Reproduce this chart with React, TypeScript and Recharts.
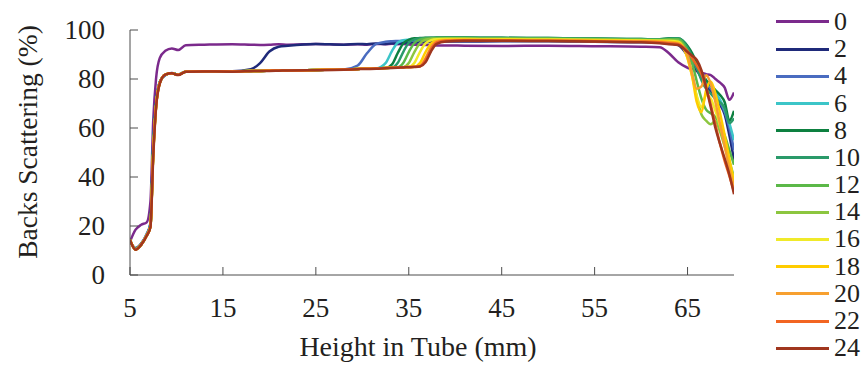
import { LineChart, Line, XAxis, YAxis, Label } from "recharts";

// height in tube (mm), shared by every scan
const heights = [
  5, 5.6, 6.2, 6.8, 7.2, 7.5, 7.8, 8.2, 8.8, 9.5, 10.2, 11,
  13, 16, 18, 19, 20, 21, 22, 25, 28, 29.5, 30.5, 31.5, 32.5, 33.2, 33.8, 34.4, 35, 35.6,
  36.2, 36.8, 37.4, 38, 39, 41, 45, 50, 55, 60, 62, 63,
  64, 65, 65.5, 66, 66.5, 67, 67.5, 68, 68.5, 69, 69.5, 70,
];

// backscattering (%) per scan time
const bs0 = [
  13.6, 18.5, 20.5, 21.5, 30, 63, 80, 88.5, 91.5, 92.5, 91.8, 93.8,
  94, 94.2, 94, 93.9, 94, 94.2, 94, 94.3, 94, 94.2, 94, 94.3, 94.2, 94.4, 94.2, 94.3, 94.1, 94,
  94, 93.9, 93.8, 93.7, 93.7, 93.6, 93.5, 93.6, 93.4, 93.2, 93, 90.5,
  86.8, 84.6, 84, 83.2, 82.6, 82, 81.6, 80, 78.5, 76.5, 71.5, 74.5,
];
const bs2 = [
  14, 11, 12.8, 16.5, 21, 53, 70, 78.8, 81.6, 82.4, 81.7, 83.1,
  83.2, 83.2, 84, 86.5, 91.2, 93.2, 93.6, 94.3, 94, 94.3, 94.2, 94.5, 94.3, 94.6, 94.5, 94.7, 94.8, 94.9,
  95, 95, 95.1, 95.2, 95.3, 95.3, 95.4, 95.4, 95.2, 95, 94.8, 94.6,
  93.8, 89.5, 86.5, 83.5, 80.5, 77.5, 75, 72.5, 69.5, 65.5, 57, 47,
];
const bs4 = [
  14.2, 10.8, 12.6, 16.8, 21, 54, 70, 78.6, 81.7, 82.3, 81.8, 83,
  83.2, 83.1, 83.3, 83.3, 83.4, 83.5, 83.5, 83.7, 83.9, 85.5, 90.5, 94.3, 95.2, 95.4, 95.5, 95.6, 95.6, 95.7,
  95.8, 95.8, 95.9, 96, 96, 96, 95.9, 95.8, 95.6, 95.4, 95.2, 95,
  94.2, 90.5, 87.5, 84.5, 81.5, 78.5, 76, 73.5, 70.5, 66.5, 60, 51,
];
const bs6 = [
  14.3, 10.6, 12.5, 16.4, 20.5, 52, 69.5, 78.5, 81.7, 82.3, 81.8, 83,
  83.2, 83.1, 83.3, 83.3, 83.4, 83.5, 83.5, 83.7, 83.9, 84.1, 84.2, 84.3, 86.5, 91.5, 94.8, 95.8, 96.1, 96.2,
  96.3, 96.3, 96.4, 96.5, 96.5, 96.5, 96.4, 96.3, 96.1, 95.9, 95.7, 95.6,
  95, 91.5, 88.5, 85.5, 82.5, 79.5, 77, 74.5, 71.5, 67.5, 62, 55,
];
const bs8 = [
  14.3, 10.5, 12.4, 16.2, 20.2, 51, 69.5, 78.5, 81.8, 82.3, 81.8, 83,
  83.2, 83.1, 83.3, 83.3, 83.4, 83.5, 83.5, 83.7, 83.9, 84.1, 84.2, 84.3, 84.5, 86, 90.5, 94.5, 96, 96.6,
  96.7, 96.8, 96.8, 96.9, 96.9, 96.9, 96.8, 96.7, 96.5, 96.3, 96.2, 96.6,
  96.5, 93.5, 90.5, 86.5, 82.5, 79.5, 77.5, 75.5, 73.5, 70.5, 63, 67,
];
const bs10 = [
  14.3, 10.5, 12.4, 16.2, 20, 50.5, 69, 78.4, 81.8, 82.3, 81.8, 83,
  83.2, 83.1, 83.3, 83.3, 83.4, 83.5, 83.5, 83.7, 83.9, 84.1, 84.2, 84.3, 84.5, 84.6, 86.5, 91, 94.8, 96.2,
  96.6, 96.7, 96.8, 96.8, 96.9, 96.9, 96.8, 96.7, 96.5, 96.3, 96.2, 96.5,
  96.6, 92.8, 89, 84.5, 79.5, 76, 74, 72, 70.5, 68, 62, 64,
];
const bs12 = [
  14.3, 10.5, 12.4, 16.1, 20, 50, 69, 78.4, 81.8, 82.3, 81.8, 83,
  83.2, 83.1, 83.3, 83.3, 83.4, 83.5, 83.5, 83.7, 83.9, 84.1, 84.2, 84.3, 84.5, 84.6, 84.7, 86.5, 91, 94.7,
  96.1, 96.5, 96.6, 96.7, 96.7, 96.7, 96.6, 96.5, 96.3, 96.1, 96, 96.2,
  96.2, 91.5, 86.5, 79, 72, 67.5, 66, 64.5, 61.5, 57, 51, 45,
];
const bs14 = [
  14.3, 10.4, 12.4, 16.1, 19.8, 49.5, 68.5, 78.3, 81.8, 82.3, 81.7, 83,
  83.2, 83.1, 83.3, 83.3, 83.4, 83.5, 83.5, 83.7, 83.9, 84.1, 84.2, 84.3, 84.5, 84.6, 84.7, 84.8, 86.5, 91,
  94.6, 96, 96.4, 96.5, 96.5, 96.5, 96.4, 96.3, 96.1, 95.9, 95.8, 95.9,
  95.6, 89.5, 82, 72.5, 65.5, 63, 61.5, 63, 58.5, 52.5, 46.5, 40,
];
const bs16 = [
  14.3, 10.4, 12.4, 16.1, 19.8, 49.5, 68.5, 78.3, 81.8, 82.3, 81.7, 83,
  83.2, 83.1, 83.3, 83.3, 83.4, 83.5, 83.5, 83.7, 83.9, 84.1, 84.2, 84.3, 84.5, 84.6, 84.7, 84.8, 84.9, 86.5,
  91, 94.5, 95.8, 96.2, 96.3, 96.3, 96.2, 96.1, 95.9, 95.7, 95.6, 95.5,
  95.2, 88.5, 81, 73, 68.5, 73.5, 72, 67, 61, 54, 46, 38.5,
];
const bs18 = [
  14.3, 10.4, 12.4, 16.1, 19.8, 49.5, 68.5, 78.3, 81.8, 82.3, 81.7, 83,
  83.2, 83.1, 83.3, 83.3, 83.4, 83.5, 83.5, 83.7, 83.9, 84.1, 84.2, 84.3, 84.5, 84.6, 84.7, 84.8, 84.9, 85,
  86.5, 91, 94.4, 95.6, 96, 96.1, 96, 95.9, 95.7, 95.5, 95.4, 95.2,
  94.8, 88.5, 81, 70.5, 66.5, 75.5, 79, 74, 66, 57, 47.5, 37.5,
];
const bs20 = [
  14.3, 10.4, 12.4, 16.1, 19.8, 49.5, 68.5, 78.3, 81.8, 82.3, 81.7, 83,
  83.2, 83.1, 83.3, 83.3, 83.4, 83.5, 83.5, 83.7, 83.9, 84.1, 84.2, 84.3, 84.5, 84.6, 84.7, 84.8, 84.9, 85,
  85.2, 88.5, 93, 95.3, 95.8, 95.9, 95.8, 95.7, 95.5, 95.3, 95.2, 95,
  94.5, 89.5, 82, 76, 77, 81.5, 78, 70.5, 61.5, 52.5, 43.5, 36,
];
const bs22 = [
  14.3, 10.4, 12.4, 16.1, 19.8, 49.5, 68.5, 78.3, 81.8, 82.3, 81.7, 83,
  83.2, 83.1, 83.3, 83.3, 83.4, 83.5, 83.5, 83.7, 83.9, 84.1, 84.2, 84.3, 84.5, 84.6, 84.7, 84.8, 84.9, 85,
  85.2, 87.8, 92.3, 94.9, 95.6, 95.8, 95.7, 95.6, 95.4, 95.2, 95, 94.6,
  94.2, 91.3, 88.5, 85.5, 82, 76.5, 69.5, 61.5, 53.5, 46.5, 40.5, 34,
];
const bs24 = [
  14.3, 10.3, 12.3, 16, 19.5, 48, 68, 78, 81.8, 82.3, 81.6, 83,
  83.1, 83, 83.2, 83.3, 83.3, 83.4, 83.5, 83.6, 83.8, 84, 84.1, 84.2, 84.4, 84.5, 84.6, 84.7, 84.8, 84.9,
  85.1, 86.8, 91.3, 94.3, 95.3, 95.6, 95.6, 95.5, 95.3, 95, 94.6, 94.2,
  93.9, 91, 89.5, 87.8, 83.5, 76.5, 68.5, 60, 53.5, 47.5, 41, 33,
];

const xTicks = [5, 15, 25, 35, 45, 55, 65];
const yTicks = [0, 20, 40, 60, 80, 100];

const series = [
  { name: "0", color: "#7b2a8c", values: bs0 },
  { name: "2", color: "#1f2a7a", values: bs2 },
  { name: "4", color: "#4a6cc0", values: bs4 },
  { name: "6", color: "#3cc5c8", values: bs6 },
  { name: "8", color: "#0d8040", values: bs8 },
  { name: "10", color: "#2a9a6a", values: bs10 },
  { name: "12", color: "#5bb848", values: bs12 },
  { name: "14", color: "#8cc63f", values: bs14 },
  { name: "16", color: "#f0ea2a", values: bs16 },
  { name: "18", color: "#ffcc00", values: bs18 },
  { name: "20", color: "#f7a030", values: bs20 },
  { name: "22", color: "#f26522", values: bs22 },
  { name: "24", color: "#a0361e", values: bs24 },
];

const rows = heights.map((h, i) => {
  const row: Record<string, number> = { h };
  series.forEach((s) => {
    row["t" + s.name] = s.values[i];
  });
  return row;
});

const FONT = "Liberation Serif";
const INK = "#231f20";
const AXIS = "#4d4d4d";

function XTick(props: any) {
  const { x, y, payload } = props;
  return (
    <g>
      <line x1={x} y1={y} x2={x} y2={y - 8} stroke={AXIS} strokeWidth={1} />
      <text x={x} y={y + 42} textAnchor="middle" fontSize={27} fill={INK} fontFamily={FONT}>
        {payload.value}
      </text>
    </g>
  );
}

function YTick(props: any) {
  const { x, y, payload } = props;
  return (
    <g>
      <line x1={x} y1={y} x2={x + 8} y2={y} stroke={AXIS} strokeWidth={1} />
      <text x={x - 25} y={y} dy="0.33em" textAnchor="end" fontSize={27} fill={INK} fontFamily={FONT}>
        {payload.value}
      </text>
    </g>
  );
}

function XTitle(props: any) {
  const vb = props.viewBox;
  return (
    <text x={vb.x + vb.width / 2 - 14} y={356} textAnchor="middle" fontSize={28} fill={INK} fontFamily={FONT}>
      Height in Tube (mm)
    </text>
  );
}

function YTitle() {
  return (
    <text
      x={37}
      y={142}
      transform="rotate(-90, 37, 142)"
      textAnchor="middle"
      fontSize={27.5}
      fill={INK}
      fontFamily={FONT}
    >
      Backs Scattering (%)
    </text>
  );
}

function SeriesLegend() {
  return (
    <div style={{ position: "absolute", left: 776, top: 8.4, fontFamily: FONT, color: INK }}>
      {series.map((s) => (
        <div key={s.name} style={{ display: "flex", alignItems: "center", height: 27.2 }}>
          <div style={{ width: 53, height: 3, background: s.color }} />
          <span style={{ marginLeft: 5, fontSize: 26, lineHeight: "20px" }}>{s.name}</span>
        </div>
      ))}
    </div>
  );
}

export default function App() {
  return (
    <div
      style={{
        position: "absolute",
        left: 0,
        top: 0,
        width: 865,
        height: 365,
        overflow: "hidden",
        background: "#fff",
        fontFamily: FONT,
      }}
    >
      <LineChart width={865} height={365} data={rows} margin={{ top: 30, right: 131, bottom: 60, left: 70 }}>
        <XAxis
          dataKey="h"
          type="number"
          domain={[5, 70]}
          ticks={xTicks}
          height={30}
          axisLine={{ stroke: AXIS }}
          tickLine={false}
          tickSize={0}
          tickMargin={0}
          tick={<XTick />}
          allowDataOverflow
        >
          <Label content={<XTitle />} />
        </XAxis>
        <YAxis
          type="number"
          domain={[0, 100]}
          ticks={yTicks}
          width={60}
          axisLine={{ stroke: AXIS }}
          tickLine={false}
          tickSize={0}
          tickMargin={0}
          tick={<YTick />}
        >
          <Label content={<YTitle />} />
        </YAxis>
        {series.map((s) => (
          <Line
            key={s.name}
            type="monotone"
            dataKey={"t" + s.name}
            stroke={s.color}
            strokeWidth={2.5}
            dot={false}
            isAnimationActive={false}
          />
        ))}
      </LineChart>
      <SeriesLegend />
    </div>
  );
}
